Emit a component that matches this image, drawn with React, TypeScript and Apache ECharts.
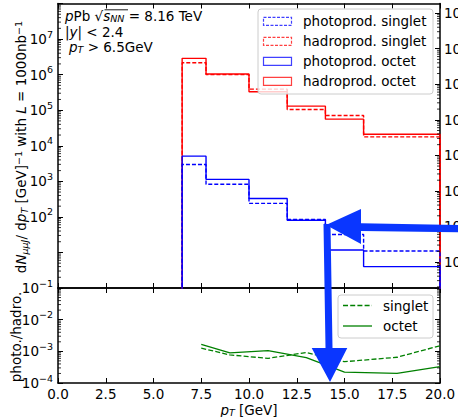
import React, { useEffect, useRef } from 'react';
import * as echarts from 'echarts';

// ---------- data ----------
const binEdges = [6.5, 7.75, 10, 12, 14, 16, 20];
const photoprodSinglet = [2970, 830, 240, 85, 32, 11];
const hadroprodSinglet = [2.15e6, 1.0e6, 3.9e5, 1.05e5, 7.1e4, 1.78e4];
const photoprodOctet = [5100, 1130, 330, 80, 11.7, 4.0];
const hadroprodOctet = [2.87e6, 1.04e6, 3.3e5, 1.3e5, 5.6e4, 2.1e4];

const ratioPt = [7.5, 9, 11, 13, 15, 17.75, 20];
const ratioSinglet = [1.26e-3, 7.7e-4, 6.0e-4, 9.2e-4, 4.7e-4, 6.5e-4, 1.5e-3];
const ratioOctet = [1.67e-3, 8.9e-4, 1.05e-3, 6.3e-4, 2.2e-4, 2.0e-4, 3.3e-4];

const xMin = 0;
const xMax = 20;
const xInterval = 2.5;
const topRange = [1, 1e8];
const topLabelExponents = [2, 3, 4, 5, 6, 7];
const twinRange = [Math.pow(10, 0.27), Math.pow(10, 8.27)];
const ratioRange = [1e-4, 1e-1];

const legendTop = [
  { name: 'photoprod. singlet', color: '#0000ff', dashed: true },
  { name: 'hadroprod. singlet', color: '#ff0000', dashed: true },
  { name: 'photoprod. octet', color: '#0000ff', dashed: false },
  { name: 'hadroprod. octet', color: '#ff0000', dashed: false },
];
const legendBottom = [
  { name: 'singlet', color: '#008000', dashed: true },
  { name: 'octet', color: '#008000', dashed: false },
];

// ---------- style ----------
const FONT = '"DejaVu Sans", Verdana, sans-serif';
const FS = 13.5;
const SFS = 9.5;
const BLACK = '#000000';
const ARROW = '#0a36ff';

const rich = {
  n: { fontFamily: FONT, fontSize: FS, lineHeight: 16, color: BLACK },
  i: { fontFamily: FONT, fontSize: FS, fontStyle: 'italic', lineHeight: 16, color: BLACK },
  sup: { fontFamily: FONT, fontSize: SFS, lineHeight: 7, verticalAlign: 'top', color: BLACK },
  sub: { fontFamily: FONT, fontSize: SFS, lineHeight: 9, verticalAlign: 'bottom', color: BLACK },
  isub: { fontFamily: FONT, fontSize: SFS, fontStyle: 'italic', lineHeight: 9, verticalAlign: 'bottom', color: BLACK },
};

const labelRich = {
  b: { fontFamily: FONT, fontSize: FS, lineHeight: 20, color: BLACK },
  s: { fontFamily: FONT, fontSize: SFS, lineHeight: 10, verticalAlign: 'top', color: BLACK },
};

function expOf(v: number): number | null {
  const l = Math.log10(v);
  const r = Math.round(l);
  if (Math.abs(l - r) > 0.01) return null;
  return r;
}
function powLabel(e: number): string {
  const s = e < 0 ? '\u2212' + Math.abs(e) : String(e);
  return '{b|10}{s|' + s + '}';
}

function stepPoints(edges: number[], vals: number[], floor: number) {
  const pts: number[][] = [[edges[0], floor]];
  vals.forEach((v, i) => {
    pts.push([edges[i], v]);
    pts.push([edges[i + 1], v]);
  });
  pts.push([edges[edges.length - 1], floor]);
  return pts;
}

function minorValues(lo: number, hi: number): number[] {
  const out: number[] = [];
  for (let n = -6; n <= 10; n++) {
    for (let k = 2; k <= 9; k++) {
      const v = k * Math.pow(10, n);
      if (v > lo && v < hi) out.push(v);
    }
  }
  return out;
}

function minorTickSeries(xAxisIndex: number, yAxisIndex: number, values: number[], left: boolean, right: boolean) {
  return {
    type: 'custom',
    xAxisIndex,
    yAxisIndex,
    silent: true,
    z: 6,
    data: values.map((v) => [xMin, v]),
    renderItem: (params: any, api: any) => {
      const v = api.value(1);
      const pL = api.coord([xMin, v]);
      const pR = api.coord([xMax, v]);
      const children: any[] = [];
      if (left) {
        children.push({
          type: 'line',
          shape: { x1: pL[0], y1: pL[1], x2: pL[0] + 3, y2: pL[1] },
          style: { stroke: BLACK, lineWidth: 0.8 },
        });
      }
      if (right) {
        children.push({
          type: 'line',
          shape: { x1: pR[0], y1: pR[1], x2: pR[0] - 3, y2: pR[1] },
          style: { stroke: BLACK, lineWidth: 0.8 },
        });
      }
      return { type: 'group', children };
    },
  };
}

export default function App() {
  const ref = useRef<HTMLDivElement>(null);

  useEffect(() => {
    if (!ref.current) return;
    const chart = echarts.init(ref.current, null, { renderer: 'svg' });

    const axisLine = { show: true, onZero: false, lineStyle: { color: BLACK, width: 1.5 } };
    const majorTick = { show: true, inside: true, length: 5, lineStyle: { color: BLACK, width: 1 } };

    const xAxisBase = {
      type: 'value',
      min: xMin,
      max: xMax,
      interval: xInterval,
      axisLine,
      axisTick: majorTick,
      splitLine: { show: false },
      axisLabel: { show: false },
    };

    const histLine = (color: string, dashed: boolean, data: number[][], name: string) => ({
      type: 'line',
      name,
      xAxisIndex: 0,
      yAxisIndex: 0,
      data,
      symbol: 'none',
      clip: true,
      z: 3,
      lineStyle: { color, width: 1.4, type: dashed ? [4, 2] : 'solid' },
    });

    const graphics: any[] = [];

    // top-left annotation
    graphics.push({
      type: 'text', x: 65, y: 15.5, z: 100,
      style: {
        text: '{i|p}{n|Pb }{n|\u221A}{i|s}{isub|NN}{n| = 8.16 TeV}',
        rich, align: 'left', verticalAlign: 'middle',
      },
    });
    graphics.push({
      type: 'line', z: 100,
      shape: { x1: 104.5, y1: 9.8, x2: 128, y2: 9.8 },
      style: { stroke: BLACK, lineWidth: 0.9 },
    });
    graphics.push({
      type: 'text', x: 65, y: 32, z: 100,
      style: { text: '{n||}{i|y}{n|| < 2.4}', rich, align: 'left', verticalAlign: 'middle' },
    });
    graphics.push({
      type: 'text', x: 69, y: 46.5, z: 100,
      style: { text: '{i|p}{isub|T}{n| > 6.5GeV}', rich, align: 'left', verticalAlign: 'middle' },
    });
    // y titles
    graphics.push({
      type: 'text', x: 21, y: 147, rotation: Math.PI / 2, z: 100,
      style: {
        text: '{n|d}{i|N}{isub|\u03BC\u03BCJ}{n|/ d}{i|p}{isub|T}{n| [GeV]}{sup|\u22121}{n| with }{i|L}{n| = 1000nb}{sup|\u22121}',
        rich, align: 'center', verticalAlign: 'middle',
      },
    });
    graphics.push({
      type: 'text', x: 15.5, y: 337, rotation: Math.PI / 2, z: 100,
      style: { text: '{n|photo./hadro.}', rich, align: 'center', verticalAlign: 'middle' },
    });
    // x title
    graphics.push({
      type: 'text', x: 249, y: 409.5, z: 100,
      style: { text: '{i|p}{isub|T}{n| [GeV]}', rich, align: 'center', verticalAlign: 'middle' },
    });

    // top legend
    graphics.push({
      type: 'rect', z: 90,
      shape: { x: 258, y: 9, width: 175, height: 85, r: 3 },
      style: { fill: 'rgba(255,255,255,0.8)', stroke: '#cccccc', lineWidth: 1 },
    });
    legendTop.forEach((it, idx) => {
      const cy = 21.3 + idx * 20;
      graphics.push({
        type: 'rect', z: 95,
        shape: { x: 263.5, y: cy - 4, width: 28, height: 8 },
        style: { fill: 'none', stroke: it.color, opacity: 0.75, lineWidth: 1.2, lineDash: it.dashed ? [3, 1.5] : null },
      });
      graphics.push({
        type: 'text', x: 303, y: cy, z: 95,
        style: { text: it.name, fontFamily: FONT, fontSize: FS, lineHeight: 16, fill: BLACK, align: 'left', verticalAlign: 'middle' },
      });
    });

    // bottom legend
    graphics.push({
      type: 'rect', z: 90,
      shape: { x: 338, y: 295, width: 95, height: 43, r: 3 },
      style: { fill: 'rgba(255,255,255,0.8)', stroke: '#cccccc', lineWidth: 1 },
    });
    legendBottom.forEach((it, idx) => {
      const cy = 305.5 + idx * 20.5;
      graphics.push({
        type: 'line', z: 95,
        shape: { x1: 343, y1: cy, x2: 372, y2: cy },
        style: { stroke: it.color, lineWidth: 1.3, lineDash: it.dashed ? [5, 2.2] : null },
      });
      graphics.push({
        type: 'text', x: 383, y: cy, z: 95,
        style: { text: it.name, fontFamily: FONT, fontSize: FS, lineHeight: 16, fill: BLACK, align: 'left', verticalAlign: 'middle' },
      });
    });

    // arrows (annotation overlay)
    graphics.push({
      type: 'polygon', z: 120,
      shape: { points: [[326, 225], [361, 209], [361, 223.3], [458, 225], [458, 232.3], [361, 231], [361, 244]] },
      style: { fill: ARROW },
    });
    graphics.push({
      type: 'polygon', z: 120,
      shape: { points: [[323.5, 224], [330.5, 224], [332.5, 348], [347.3, 348], [330, 382], [311.7, 348], [325.5, 348]] },
      style: { fill: ARROW },
    });

    const option: any = {
      animation: false,
      backgroundColor: '#ffffff',
      textStyle: { fontFamily: FONT },
      grid: [
        { left: 58, width: 382, top: 3.5, height: 284.5, containLabel: false, outerBoundsMode: 'none' },
        { left: 58, width: 382, top: 288, height: 95, containLabel: false, outerBoundsMode: 'none' },
      ],
      xAxis: [
        { ...xAxisBase, gridIndex: 0, position: 'bottom' },
        { ...xAxisBase, gridIndex: 0, position: 'top' },
        {
          ...xAxisBase, gridIndex: 1, position: 'bottom',
          axisLabel: {
            show: true, margin: 4, fontFamily: FONT, fontSize: FS, lineHeight: 14, color: BLACK,
            formatter: (v: number) => v.toFixed(1),
          },
        },
        { ...xAxisBase, gridIndex: 1, position: 'top' },
      ],
      yAxis: [
        {
          gridIndex: 0, type: 'log', logBase: 10, min: topRange[0], max: topRange[1], position: 'left',
          axisLine, axisTick: majorTick, splitLine: { show: false }, minorTick: { show: false },
          axisLabel: {
            show: true, margin: 5, rich: labelRich, showMinLabel: true, showMaxLabel: true,
            formatter: (v: number) => {
              const e = expOf(v);
              if (e === null || topLabelExponents.indexOf(e) < 0) return '';
              return powLabel(e);
            },
          },
        },
        {
          gridIndex: 0, type: 'log', logBase: 10, min: twinRange[0], max: twinRange[1], position: 'right',
          axisLine, axisTick: majorTick, splitLine: { show: false }, minorTick: { show: false },
          axisLabel: {
            show: true, margin: 4, rich: labelRich, showMinLabel: false, showMaxLabel: false,
            formatter: (v: number) => {
              const e = expOf(v);
              if (e === null) return '';
              return powLabel(e);
            },
          },
        },
        {
          gridIndex: 1, type: 'log', logBase: 10, min: ratioRange[0], max: ratioRange[1], position: 'left',
          axisLine, axisTick: majorTick, splitLine: { show: false }, minorTick: { show: false },
          axisLabel: {
            show: true, margin: 5, rich: labelRich, showMinLabel: true, showMaxLabel: true,
            formatter: (v: number) => {
              const e = expOf(v);
              if (e === null) return '';
              return powLabel(e);
            },
          },
        },
        {
          gridIndex: 1, type: 'log', logBase: 10, min: ratioRange[0], max: ratioRange[1], position: 'right',
          axisLine, axisTick: majorTick, splitLine: { show: false }, minorTick: { show: false },
          axisLabel: { show: false },
        },
      ],
      series: [
        histLine('#ff0000', false, stepPoints(binEdges, hadroprodOctet, 1e-3), 'hadroprod. octet'),
        histLine('#ff0000', true, stepPoints(binEdges, hadroprodSinglet, 1e-3), 'hadroprod. singlet'),
        histLine('#0000ff', true, stepPoints(binEdges, photoprodSinglet, 1e-3), 'photoprod. singlet'),
        histLine('#0000ff', false, stepPoints(binEdges, photoprodOctet, 1e-3), 'photoprod. octet'),
        {
          type: 'line', name: 'singlet', xAxisIndex: 2, yAxisIndex: 2, symbol: 'none', z: 3,
          data: ratioPt.map((x, i) => [x, ratioSinglet[i]]),
          lineStyle: { color: '#008000', width: 1.3, type: [5, 2.2] },
        },
        {
          type: 'line', name: 'octet', xAxisIndex: 2, yAxisIndex: 2, symbol: 'none', z: 3,
          data: ratioPt.map((x, i) => [x, ratioOctet[i]]),
          lineStyle: { color: '#008000', width: 1.3, type: 'solid' },
        },
        minorTickSeries(0, 0, minorValues(topRange[0], topRange[1]), true, false),
        minorTickSeries(0, 1, minorValues(twinRange[0], twinRange[1]), false, true),
        minorTickSeries(2, 2, minorValues(ratioRange[0], ratioRange[1]), true, true),
      ],
      graphic: graphics,
    };

    chart.setOption(option);
    return () => {
      chart.dispose();
    };
  }, []);

  return (
    <div
      ref={ref}
      style={{ position: 'fixed', left: 0, top: 0, width: 458, height: 417, background: '#fff' }}
    />
  );
}
